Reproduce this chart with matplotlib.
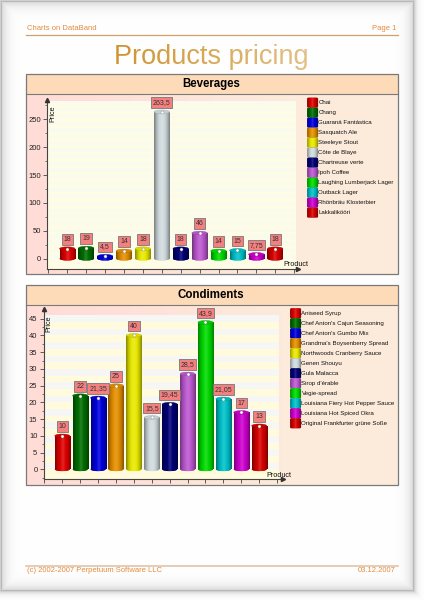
import matplotlib
matplotlib.use('Agg')
import matplotlib.pyplot as plt
import numpy as np
from matplotlib.colors import LinearSegmentedColormap, to_rgb
from matplotlib.patches import Ellipse, FancyBboxPatch, Rectangle

### Data ####################################################
beverages_names = ['Chai', 'Chang', 'Guaraná Fantástica', 'Sasquatch Ale', 'Steeleye Stout',
                   'Côte de Blaye', 'Chartreuse verte', 'Ipoh Coffee', 'Laughing Lumberjack Lager',
                   'Outback Lager', 'Rhönbräu Klosterbier', 'Lakkalikööri']
beverages_prices = [18, 19, 4.5, 14, 18, 263.5, 18, 46, 14, 15, 7.75, 18]
condiments_names = ['Aniseed Syrup', "Chef Anton's Cajun Seasoning", "Chef Anton's Gumbo Mix",
                    "Grandma's Boysenberry Spread", 'Northwoods Cranberry Sauce', 'Genen Shouyu',
                    'Gula Malacca', "Sirop d'érable", 'Vegie-spread', 'Louisiana Fiery Hot Pepper Sauce',
                    'Louisiana Hot Spiced Okra', 'Original Frankfurter grüne Soße']
condiments_prices = [10, 22, 21.35, 25, 40, 15.5, 19.45, 28.5, 43.9, 21.05, 17, 13]
bar_colors = ['#DC0000', '#006C00', '#0000DC', '#E48E00', '#E8E800', '#D0DADD',
              '#000074', '#BC58D0', '#00D800', '#00C0C8', '#CC00CC', '#D40000']
#############################################################

W, H = 425, 600
plt.rcParams['font.family'] = ['Liberation Sans', 'DejaVu Sans']
text_col = '#E58A3C'

fig = plt.figure(figsize=(4.25, 6), dpi=100)


def shade(color, f):
    c = np.array(to_rgb(color))
    return tuple(c * f) if f <= 1 else tuple(c + (1 - c) * (f - 1))


def cyl_map(color):
    return LinearSegmentedColormap.from_list('c', [shade(color, 0.6), shade(color, 0.85), shade(color, 1.0),
                                                   shade(color, 1.15), shade(color, 1.0), shade(color, 0.85),
                                                   shade(color, 0.6)])


grad = np.linspace(0, 1, 32).reshape(1, -1)

# page with its shadow, all in pixel coordinates
page = fig.add_axes([0, 0, 1, 1], zorder=0)
page.axis('off')
yy, xx = np.mgrid[0:H, 0:W] + 0.5
d = np.minimum.reduce([xx - 2, yy - 2, 413 - xx, 590 - yy])
val = np.where(d >= 0, 1 - 0.16 * np.exp(-d / 5), 1 - 0.34 * np.exp(d / 2.5))
tint = np.dstack([val * 0.98 + 0.02, val * 0.99 + 0.01, val])
page.imshow(tint, extent=(0, W, H, 0), aspect='auto', zorder=0)

# header / footer
page.plot([26, 398], [34.5, 34.5], color='#CF9F6C', lw=0.9, zorder=2)
page.plot([26, 398], [565.7, 565.7], color='#DDBFA5', lw=1.1, zorder=2)
page.text(27, 29, 'Charts on DataBand', color=text_col, fontsize=5.5, va='center', zorder=2)
page.text(396, 29, 'Page 1', color=text_col, fontsize=5.5, va='center', ha='right', zorder=2)
page.text(27, 570.7, '(c) 2002-2007 Perpetuum Software LLC', color=text_col, fontsize=5.5, va='center', zorder=2)
page.text(396, 570.7, '03.12.2007', color=text_col, fontsize=5.5, va='center', ha='right', zorder=2)
page.text(211, 57, 'Products pricing', color='#CF9430', fontsize=19.5, ha='center', va='center', zorder=2)
fade = np.ones((1, 64, 4))
fade[..., 3] = np.linspace(0, 0.42, 64)
page.imshow(fade, extent=(114, 310, 72, 44), aspect='auto', zorder=3)

panel_map = LinearSegmentedColormap.from_list('p', ['#FFDDD6', '#FFE0D8', '#FDE7DA', '#FCEBDA', '#FCEBDA'])


def draw_panel(title, top, bottom, names, prices, box, xmap, ymap, bar_w, band_r, bands, yticks, yminor,
               price_xy, product_xy, legend_x, legend_y):
    page.imshow(grad, extent=(26, 398, bottom, top), aspect='auto', cmap=panel_map, zorder=1)
    page.add_patch(Rectangle((26, top), 372, 20, fc='#FDDAB8', ec='none', zorder=1.2))
    page.add_patch(Rectangle((26, top), 372, bottom - top, fc='none', ec='#7A7A7A', lw=0.9, zorder=1.4))
    page.plot([26, 398], [top + 20, top + 20], color='#7A7A7A', lw=0.8, zorder=1.4)
    page.text(211, top + 10, title, fontsize=8.3, fontweight='bold', ha='center', va='center', zorder=2)

    # legend
    for i, (name, color) in enumerate(zip(names, bar_colors)):
        y = legend_y + 10 * i
        sw = FancyBboxPatch((legend_x + 1.2, y - 3.6), 8.2, 7.2, boxstyle='round,pad=1.2', fc=color,
                            ec=shade(color, 0.7), lw=0.3, zorder=2)
        page.add_patch(sw)
        im = page.imshow(grad, extent=(legend_x, legend_x + 10.6, y + 4.8, y - 4.8), aspect='auto',
                         cmap=cyl_map(color), zorder=2.1)
        im.set_clip_path(sw)
        page.text(legend_x + 11.2, y, name, fontsize=4.4, color='#111111', va='center', zorder=2)

    # chart axes, positioned in pixels
    left, right, ax_bot, ax_top = box
    ax = fig.add_axes([left / W, 1 - ax_bot / H, (right - left) / W, (ax_bot - ax_top) / H], zorder=1)
    ax.patch.set_visible(False)
    xlim = ((left - xmap[0]) / xmap[1], (right - xmap[0]) / xmap[1])
    ylim = ((ymap[0] - ax_bot) / ymap[1], (ymap[0] - ax_top) / ymap[1])
    xfrac = (band_r - left) / (right - left)

    ax.axhspan(ylim[0], bands[1], xmax=xfrac, color=bands[3], lw=0, zorder=0)
    for b in np.arange(0, bands[1], bands[0] * 2):
        ax.axhspan(b, b + bands[0], xmax=xfrac, color=bands[2], lw=0, zorder=0.5)

    ell = 3.6 / ymap[1]
    for i, (v, color) in enumerate(zip(prices, bar_colors)):
        body = ax.bar(i, v, width=bar_w, color=color, zorder=2)[0]
        foot = Ellipse((i, 0), bar_w, ell, fc=color, ec='none', zorder=2)
        ax.add_patch(foot)
        for clip in (body, foot):
            im = ax.imshow(grad, extent=(i - bar_w / 2, i + bar_w / 2, -ell, v), aspect='auto',
                           cmap=cyl_map(color), zorder=2.2)
            im.set_clip_path(clip)
        ax.add_patch(Ellipse((i, v), bar_w, ell, fc=shade(color, 0.95), ec=shade(color, 0.8), lw=0.3, zorder=3))
        ax.plot(i, v, 'o', ms=2.2, mfc='white', mec='#888888', mew=0.3, zorder=4)
        ax.annotate(f'{v:g}'.replace('.', ','), (i, v), xytext=(0, 6.7), textcoords='offset points',
                    ha='center', va='center', fontsize=5, color='#333333', zorder=5,
                    bbox=dict(boxstyle='square,pad=0.26', fc='#F47F7F', ec='#777777', lw=0.6))

    ax.set_xlim(xlim)
    ax.set_ylim(ylim)
    for s in ('top', 'right'):
        ax.spines[s].set_visible(False)
    for s in ('left', 'bottom'):
        ax.spines[s].set_color('#444444')
        ax.spines[s].set_linewidth(0.8)
    ax.set_xticks(np.arange(-1, 13))
    ax.set_xticklabels([])
    ax.set_yticks(yticks)
    ax.set_yticks(yminor, minor=True)
    ax.tick_params(axis='x', length=2.8, width=0.6, color='#444444')
    ax.tick_params(axis='y', which='major', length=3.2, width=0.6, color='#444444', labelsize=5.5,
                   labelcolor='#222222', pad=1.2)
    ax.tick_params(axis='y', which='minor', length=1.6, width=0.5, color='#444444')
    ax.plot(0, 1, '^', ms=3, color='#333333', transform=ax.transAxes, clip_on=False, zorder=6)
    ax.plot(1, 0, '>', ms=3, color='#333333', transform=ax.transAxes, clip_on=False, zorder=6)

    ax.set_ylabel('Price', fontsize=5.2, color='#111111')
    ax.yaxis.set_label_coords((price_xy[0] - left) / (right - left), (ax_bot - price_xy[1]) / (ax_bot - ax_top))
    ax.set_xlabel('Product', fontsize=5.2, color='#111111')
    ax.xaxis.set_label_coords((product_xy[0] - left) / (right - left), (ax_bot - product_xy[1]) / (ax_bot - ax_top))
    ax.xaxis.label.set_va('center')
    ax.yaxis.label.set_va('center')


draw_panel('Beverages', 74, 274, beverages_names, beverages_prices,
           box=(47, 298, 269, 100), xmap=(67.3, 18.9), ymap=(258.7, 0.5576), bar_w=0.82, band_r=296,
           bands=(6, 277, '#F9FBEE', '#FFFCE6'), yticks=np.arange(0, 251, 50), yminor=np.arange(25, 276, 50),
           price_xy=(52.7, 114), product_xy=(296, 265), legend_x=307.3, legend_y=102.7)
draw_panel('Condiments', 285, 485, condiments_names, condiments_prices,
           box=(43.5, 283, 479.3, 309), xmap=(62.3, 17.9), ymap=(469.3, 3.347), bar_w=0.84, band_r=279,
           bands=(2, 46, '#F6F6F4', '#FFFBDC'), yticks=np.arange(0, 46, 5), yminor=np.arange(-2.5, 46, 5),
           price_xy=(49, 324), product_xy=(279, 475.7), legend_x=290.3, legend_y=313.3)

page.set_xlim(0, W)
page.set_ylim(H, 0)

fig.savefig('out.png', dpi=100)
plt.close()
